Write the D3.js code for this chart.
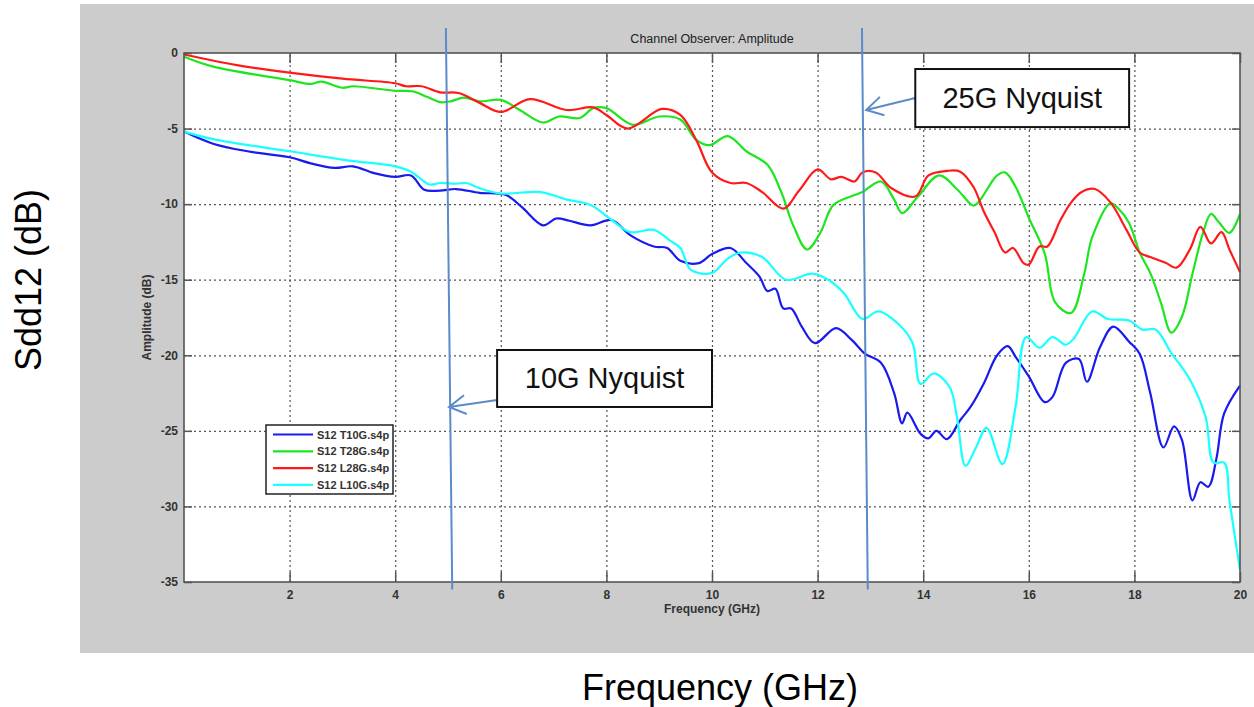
<!DOCTYPE html>
<html>
<head>
<meta charset="utf-8">
<script src="https://cdn.jsdelivr.net/npm/d3@7"></script>
<style>
  body { margin: 0; background: #fff; }
  svg { display: block; font-family: "Liberation Sans", Arial, sans-serif; }
</style>
</head>
<body>
<div id="chart"></div>
<script>
// values (GHz, dB)
var t10gFreq = [0, 0.55, 1.2, 2.0, 2.4, 2.85, 3.2, 3.6, 4.0, 4.3, 4.55, 4.85, 5.15, 5.6, 6.1, 6.4, 6.8, 7.05, 7.3, 7.7, 8.1, 8.45, 8.9, 9.15, 9.4, 9.75, 10.0, 10.35, 10.65, 10.9, 11.05, 11.2, 11.35, 11.5, 11.7, 11.95, 12.35, 12.65, 12.9, 13.2, 13.45, 13.6, 13.7, 13.95, 14.1, 14.25, 14.45, 14.7, 14.9, 15.15, 15.4, 15.6, 15.75, 16.0, 16.3, 16.45, 16.7, 16.95, 17.1, 17.35, 17.6, 17.9, 18.1, 18.3, 18.55, 18.75, 18.9, 19.1, 19.25, 19.4, 19.55, 19.7, 20.0]
var t10gDb = [-5.2, -6.0, -6.5, -6.9, -7.3, -7.6, -7.5, -7.95, -8.2, -8.1, -9.05, -9.1, -9.0, -9.25, -9.4, -10.2, -11.4, -10.95, -11.1, -11.4, -11.05, -12.05, -12.8, -12.9, -13.75, -13.9, -13.3, -12.9, -13.9, -14.8, -15.75, -15.6, -16.9, -16.9, -18.1, -19.2, -18.2, -19.0, -19.9, -20.5, -22.5, -24.5, -23.8, -25.2, -25.5, -25.0, -25.55, -24.3, -23.4, -21.85, -20.0, -19.4, -20.1, -21.4, -23.1, -22.75, -20.5, -20.25, -21.75, -19.45, -18.1, -19.1, -19.9, -22.5, -26.1, -24.7, -25.6, -29.6, -28.4, -28.7, -26.9, -23.85, -22.0]

var t28gFreq = [0, 0.55, 2.0, 2.4, 2.6, 3.0, 3.2, 4.0, 4.35, 4.6, 4.85, 5.05, 5.3, 5.6, 6.0, 6.35, 6.8, 7.1, 7.5, 7.75, 8.0, 8.5, 9.0, 9.4, 9.7, 9.95, 10.3, 10.65, 11.05, 11.3, 11.55, 11.8, 12.05, 12.3, 12.7, 12.85, 13.2, 13.45, 13.6, 13.9, 14.3, 14.65, 14.95, 15.05, 15.4, 15.55, 15.75, 16.0, 16.3, 16.5, 16.8, 17.05, 17.2, 17.55, 17.7, 17.9, 18.1, 18.3, 18.5, 18.7, 18.9, 19.1, 19.3, 19.45, 19.6, 19.8, 20.0]
var t28gDb = [-0.25, -0.9, -1.8, -2.05, -1.9, -2.3, -2.2, -2.5, -2.55, -2.9, -3.25, -3.2, -2.95, -3.2, -3.1, -3.75, -4.6, -4.2, -4.3, -3.65, -3.65, -4.75, -4.2, -4.4, -5.75, -6.1, -5.5, -6.5, -7.4, -9.1, -11.5, -13.0, -11.9, -10.05, -9.4, -9.2, -8.5, -9.7, -10.6, -9.5, -8.1, -9.05, -10.1, -9.85, -8.1, -7.9, -8.85, -10.9, -13.25, -16.5, -17.2, -14.6, -12.2, -9.95, -10.3, -11.25, -13.2, -14.55, -16.5, -18.5, -17.45, -14.6, -11.9, -10.65, -11.2, -11.9, -10.65]

var l28gFreq = [0, 1, 2, 3, 4, 4.2, 4.5, 4.85, 5.2, 5.6, 6.0, 6.55, 7.25, 7.75, 8.0, 8.4, 9.05, 9.4, 9.7, 10.0, 10.35, 10.65, 10.95, 11.35, 11.65, 12.0, 12.25, 12.45, 12.7, 12.85, 13.1, 13.4, 13.85, 14.1, 14.45, 14.7, 14.95, 15.15, 15.35, 15.55, 15.7, 15.9, 16.0, 16.2, 16.35, 16.6, 16.8, 17.0, 17.25, 17.55, 17.85, 18.1, 18.3, 18.6, 18.8, 19.05, 19.25, 19.45, 19.65, 19.8, 20.0]
var l28gDb = [-0.1, -0.8, -1.3, -1.7, -2.0, -2.2, -2.2, -2.6, -2.65, -3.3, -3.9, -3.05, -3.77, -3.6, -4.1, -5.0, -3.7, -4.1, -5.75, -7.9, -8.6, -8.6, -9.2, -10.3, -9.1, -7.7, -8.35, -8.2, -8.5, -7.9, -7.9, -8.95, -9.5, -8.1, -7.8, -7.85, -8.85, -10.5, -11.85, -13.2, -12.9, -13.9, -14.0, -12.8, -12.8, -11.05, -9.9, -9.2, -9.0, -9.9, -11.7, -13.2, -13.5, -13.9, -14.2, -13.0, -11.5, -12.6, -11.85, -13.0, -14.5]

var l10gFreq = [0, 0.55, 2.0, 3.1, 4.0, 4.3, 4.65, 4.85, 5.15, 5.35, 5.6, 6.0, 6.75, 7.25, 7.7, 8.1, 8.45, 8.9, 9.2, 9.4, 9.6, 10.0, 10.3, 10.55, 10.95, 11.4, 11.9, 12.2, 12.5, 12.85, 13.15, 13.55, 13.8, 13.95, 14.2, 14.5, 14.64, 14.8, 15.0, 15.2, 15.5, 15.75, 15.95, 16.2, 16.45, 16.7, 16.85, 17.2, 17.5, 17.9, 18.15, 18.4, 18.7, 19.05, 19.35, 19.5, 19.7, 19.8, 20.0]
var l10gDb = [-5.2, -5.7, -6.5, -7.1, -7.5, -7.85, -8.7, -8.6, -8.65, -8.6, -8.95, -9.3, -9.2, -9.7, -10.05, -11.05, -11.85, -11.7, -12.4, -12.9, -14.35, -14.55, -13.6, -13.2, -13.5, -15.0, -14.6, -15.0, -15.9, -17.6, -17.1, -18.0, -19.2, -21.9, -21.2, -22.1, -24.1, -27.3, -26.1, -24.8, -27.2, -23.4, -18.8, -19.5, -18.8, -19.3, -18.9, -17.1, -17.6, -17.7, -18.3, -18.3, -19.85, -21.6, -24.1, -27.1, -27.1, -29.6, -34.2]

var seriesNames = ["S12 T10G.s4p", "S12 T28G.s4p", "S12 L28G.s4p", "S12 L10G.s4p"]
var seriesColors = ["#1a1aee", "#1ee61e", "#ff1a1a", "#1affff"]
var xTickValues = [2, 4, 6, 8, 10, 12, 14, 16, 18, 20]
var yTickValues = [0, -5, -10, -15, -20, -25, -30, -35]

// annotation anchors, in GHz / dB
var nyquistLabels = ["10G Nyquist", "25G Nyquist"]
var nyquistTop = [[4.96, 1.65], [12.84, 1.65]]
var nyquistBottom = [[5.08, -35.5], [12.95, -35.5]]
var boxTopLeft = [[5.93, -19.65], [13.85, -1.06]]
var boxBottomRight = [[10.0, -23.42], [17.9, -4.9]]
var arrowTail = [[5.93, -22.96], [13.85, -2.98]]
var arrowTip = [[5.02, -23.42], [12.92, -3.77]]

var series = [
    {name: seriesNames[0], color: seriesColors[0], f: t10gFreq, v: t10gDb},
    {name: seriesNames[1], color: seriesColors[1], f: t28gFreq, v: t28gDb},
    {name: seriesNames[2], color: seriesColors[2], f: l28gFreq, v: l28gDb},
    {name: seriesNames[3], color: seriesColors[3], f: l10gFreq, v: l10gDb}
]

var dims = {width: 1254, height: 707, left: 184, right: 1240, top: 53, bottom: 582}

var svg = d3.select("#chart")
    .append("svg")
    .attr("width", dims.width)
    .attr("height", dims.height)

// grey figure background
svg.append("rect")
    .attr("x", 80).attr("y", 4)
    .attr("width", dims.width - 80).attr("height", 649)
    .attr("fill", "#cccccc")

var x = d3.scaleLinear().domain([0, 20]).range([dims.left, dims.right])
var y = d3.scaleLinear().domain([0, -35]).range([dims.top, dims.bottom])

var plotW = dims.right - dims.left
var plotH = dims.bottom - dims.top

svg.append("rect")
    .attr("x", dims.left).attr("y", dims.top)
    .attr("width", plotW).attr("height", plotH)
    .attr("fill", "#fff")

// dotted grid
svg.append("g")
    .attr("class", "grid")
    .attr("transform", "translate(0," + dims.bottom + ")")
    .call(d3.axisBottom(x).tickValues(xTickValues.slice(0, -1)).tickSize(-plotH).tickFormat(""))
svg.append("g")
    .attr("class", "grid")
    .attr("transform", "translate(" + dims.left + ",0)")
    .call(d3.axisLeft(y).tickValues(yTickValues.slice(1, -1)).tickSize(-plotW).tickFormat(""))
svg.selectAll(".grid .domain").remove()
svg.selectAll(".grid line")
    .attr("stroke", "#555")
    .attr("stroke-width", 1.2)
    .attr("stroke-dasharray", "2,3")

// curves
var line = d3.line()
    .x(function (d) { return x(d[0]) })
    .y(function (d) { return y(d[1]) })
    .curve(d3.curveCatmullRom.alpha(0.5))

for (var s of series) {
    var pts = s.f.map(function (f, i) { return [f, s.v[i]] })
    svg.append("path")
        .datum(pts)
        .attr("d", line)
        .attr("fill", "none")
        .attr("stroke", s.color)
        .attr("stroke-width", 2.2)
        .attr("stroke-linejoin", "round")
}

// axes, matlab style ticks pointing inward
var axisColor = "#555"
var plainNum = function (d) { return String(d) }
svg.append("g")
    .attr("transform", "translate(0," + dims.bottom + ")")
    .call(d3.axisBottom(x).tickValues(xTickValues).tickFormat(plainNum).tickSizeInner(-10).tickSizeOuter(0).tickPadding(8))
svg.append("g")
    .attr("transform", "translate(" + dims.left + ",0)")
    .call(d3.axisLeft(y).tickValues(yTickValues).tickFormat(plainNum).tickSizeInner(-8).tickSizeOuter(0).tickPadding(6))
svg.append("g")
    .attr("transform", "translate(0," + dims.top + ")")
    .call(d3.axisTop(x).tickValues(xTickValues).tickSizeInner(-10).tickSizeOuter(0).tickFormat(""))
svg.append("g")
    .attr("transform", "translate(" + dims.right + ",0)")
    .call(d3.axisRight(y).tickValues(yTickValues).tickSizeInner(-8).tickSizeOuter(0).tickFormat(""))

svg.selectAll(".domain").remove()
svg.selectAll(".tick line").filter(function () { return d3.select(this).attr("stroke-dasharray") == null })
    .attr("stroke", axisColor).attr("stroke-width", 1.5)
svg.selectAll(".tick text")
    .attr("fill", "#333")
    .style("font-size", "12px")
    .style("font-weight", "bold")
    .style("font-family", "'Liberation Sans', Arial, sans-serif")

svg.append("rect")
    .attr("x", dims.left).attr("y", dims.top)
    .attr("width", plotW).attr("height", plotH)
    .attr("fill", "none")
    .attr("stroke", axisColor)
    .attr("stroke-width", 1.6)

// titles inside the figure
svg.append("text")
    .attr("x", x(10)).attr("y", 43)
    .attr("text-anchor", "middle")
    .attr("fill", "#222")
    .style("font-size", "12.5px")
    .text("Channel Observer: Amplitude")

svg.append("text")
    .attr("x", x(10)).attr("y", 613)
    .attr("text-anchor", "middle")
    .attr("fill", "#333")
    .style("font-size", "12px")
    .style("font-weight", "bold")
    .text("Frequency (GHz)")

svg.append("text")
    .attr("transform", "translate(151," + (dims.top + plotH / 2) + ") rotate(-90)")
    .attr("text-anchor", "middle")
    .attr("fill", "#333")
    .style("font-size", "12px")
    .style("font-weight", "bold")
    .text("Amplitude (dB)")

// legend
var leg = svg.append("g").attr("transform", "translate(266,425)")
leg.append("rect")
    .attr("width", 127).attr("height", 69)
    .attr("fill", "#fff")
    .attr("stroke", "#222")
    .attr("stroke-width", 1.5)
series.forEach(function (s, i) {
    var ly = 9.5 + i * 16.8
    leg.append("line")
        .attr("x1", 7).attr("x2", 47)
        .attr("y1", ly).attr("y2", ly)
        .attr("stroke", s.color)
        .attr("stroke-width", 2.2)
    leg.append("text")
        .attr("x", 51).attr("y", ly + 4)
        .attr("fill", "#333")
        .style("font-size", "11px")
        .style("font-weight", "bold")
        .text(s.name)
})

// nyquist markers
var nyqColor = "#5b8bc8"
nyquistLabels.forEach(function (label, i) {
    svg.append("line")
        .attr("x1", x(nyquistTop[i][0])).attr("y1", y(nyquistTop[i][1]))
        .attr("x2", x(nyquistBottom[i][0])).attr("y2", y(nyquistBottom[i][1]))
        .attr("stroke", nyqColor)
        .attr("stroke-width", 2)

    var tx = x(arrowTip[i][0]), ty = y(arrowTip[i][1])
    var sx = x(arrowTail[i][0]), sy = y(arrowTail[i][1])
    var ang = Math.atan2(sy - ty, sx - tx)
    var len = 19
    var a1 = ang - Math.PI / 6, a2 = ang + Math.PI / 6
    svg.append("path")
        .attr("d", "M" + sx + "," + sy + "L" + tx + "," + ty +
            "M" + (tx + len * Math.cos(a1)) + "," + (ty + len * Math.sin(a1)) +
            "L" + tx + "," + ty +
            "L" + (tx + len * Math.cos(a2)) + "," + (ty + len * Math.sin(a2)))
        .attr("fill", "none")
        .attr("stroke", nyqColor)
        .attr("stroke-width", 2)

    var bx0 = x(boxTopLeft[i][0]), by0 = y(boxTopLeft[i][1])
    var bx1 = x(boxBottomRight[i][0]), by1 = y(boxBottomRight[i][1])
    svg.append("rect")
        .attr("x", bx0).attr("y", by0)
        .attr("width", bx1 - bx0).attr("height", by1 - by0)
        .attr("fill", "#fff")
        .attr("stroke", "#111")
        .attr("stroke-width", 2)
    svg.append("text")
        .attr("x", (bx0 + bx1) / 2).attr("y", (by0 + by1) / 2 + 10)
        .attr("text-anchor", "middle")
        .attr("fill", "#111")
        .style("font-size", "29px")
        .text(label)
})

// outer labels
svg.append("text")
    .attr("x", 720).attr("y", 700)
    .attr("text-anchor", "middle")
    .attr("fill", "#000")
    .style("font-size", "36px")
    .text("Frequency (GHz)")

svg.append("text")
    .attr("transform", "translate(41,280) rotate(-90)")
    .attr("text-anchor", "middle")
    .attr("fill", "#000")
    .style("font-size", "36px")
    .text("Sdd12 (dB)")
</script>
</body>
</html>
